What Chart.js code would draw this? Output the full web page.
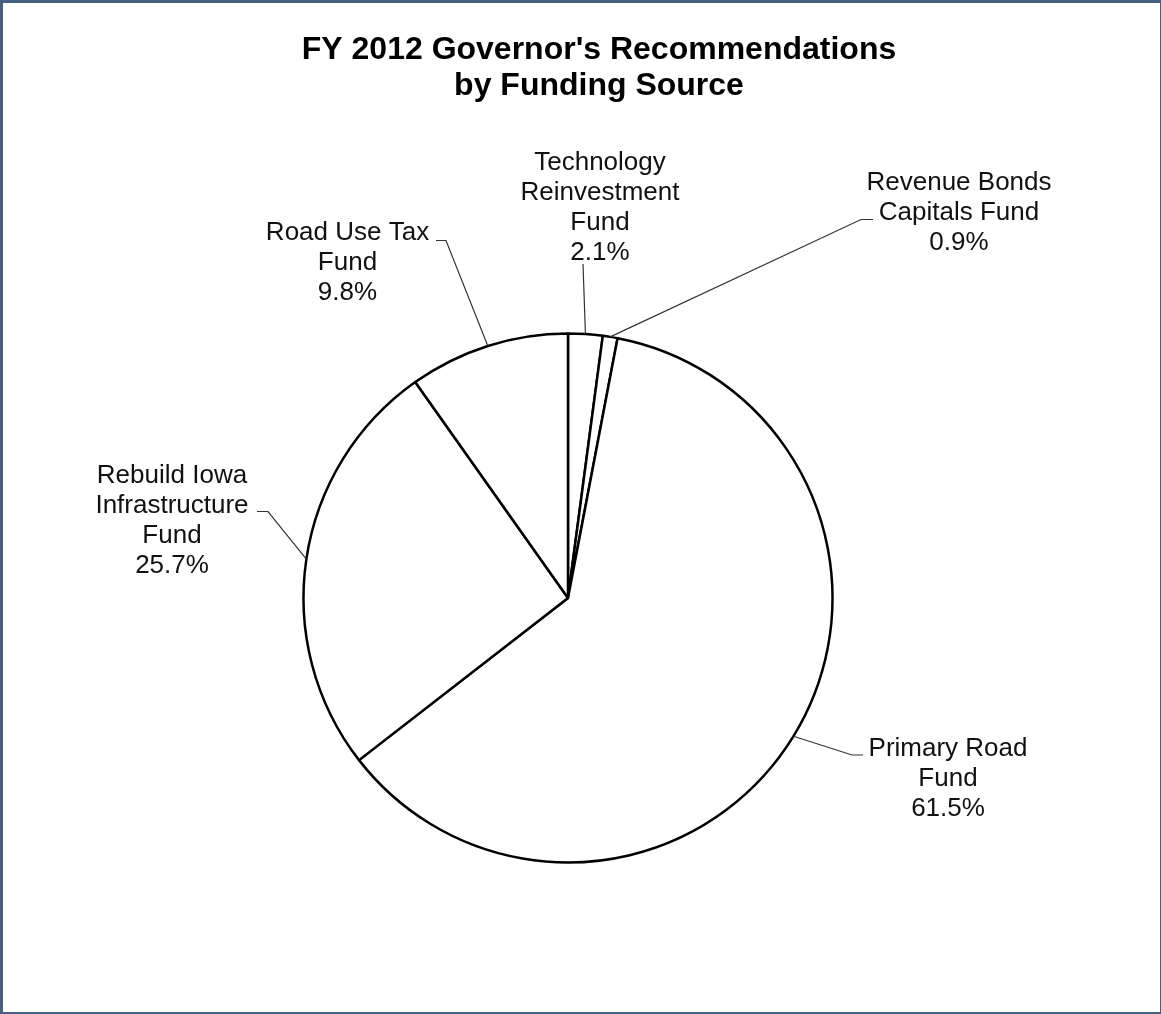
<!DOCTYPE html>
<html>
<head>
<meta charset="utf-8">
<script src="https://cdn.jsdelivr.net/npm/chart.js@4"></script>
<style>
    html, body { margin: 0; padding: 0; background: #fff; }
    #wrap { position: relative; width: 1161px; height: 1014px; }
    #pieChart { position: absolute; left: 0; top: 0; }
    #frame {
        position: absolute; left: 0; top: 0; width: 1161px; height: 1014px;
        box-sizing: border-box; border: 2px solid #46607f; border-top-width: 3px; border-left-width: 3px; border-right-width: 1px;
        pointer-events: none;
    }
</style>
</head>
<body>
<div id="wrap">
    <canvas id="pieChart" width="1161" height="1014"></canvas>
    <div id="frame"></div>
</div>
<script>
// data: order follows the pie clockwise from 12 o'clock
const titleLines = ['FY 2012 Governor\'s Recommendations', 'by Funding Source'];
const categories = [
    'Technology Reinvestment Fund',
    'Revenue Bonds Capitals Fund',
    'Primary Road Fund',
    'Rebuild Iowa Infrastructure Fund',
    'Road Use Tax Fund'
];
const categoryLines = [
    ['Technology', 'Reinvestment', 'Fund'],
    ['Revenue Bonds', 'Capitals Fund'],
    ['Primary Road', 'Fund'],
    ['Rebuild Iowa', 'Infrastructure', 'Fund'],
    ['Road Use Tax', 'Fund']
];
const shares = [2.1, 0.9, 61.5, 25.7, 9.8];

// label placement (text centre x, first baseline y, leader elbow, end of short horizontal)
const labelLayout = [
    { x: 600, y: 169.5, elbow: [583, 264], tail: null },
    { x: 959, y: 189.5, elbow: [861, 219.5], tail: [873, 219.5] },
    { x: 948, y: 755.5, elbow: [852, 755], tail: [863, 755] },
    { x: 172, y: 482.5, elbow: [268, 511.5], tail: [257, 511.5] },
    { x: 347.5, y: 239.5, elbow: [446, 240.5], tail: [436, 240.5] }
];

const FONT = '"Liberation Sans", Arial, sans-serif';

const labelPlugin = {
    id: 'pieLabels',
    afterDatasetsDraw(chart) {
        const ctx = chart.ctx;
        const arcs = chart.getDatasetMeta(0).data;
        const total = shares.reduce((a, b) => a + b, 0);

        ctx.save();
        // title
        ctx.fillStyle = '#000';
        ctx.textAlign = 'center';
        ctx.textBaseline = 'alphabetic';
        ctx.font = 'bold 32px ' + FONT;
        titleLines.forEach((t, i) => ctx.fillText(t, 599, 59 + i * 36));

        arcs.forEach((arc, i) => {
            const p = arc.getProps(['x', 'y', 'startAngle', 'endAngle', 'outerRadius'], true);
            const mid = (p.startAngle + p.endAngle) / 2;
            const ax = p.x + Math.cos(mid) * p.outerRadius;
            const ay = p.y + Math.sin(mid) * p.outerRadius;
            const lay = labelLayout[i];

            // leader line
            ctx.strokeStyle = '#333';
            ctx.lineWidth = 1.2;
            ctx.beginPath();
            ctx.moveTo(ax, ay);
            ctx.lineTo(lay.elbow[0], lay.elbow[1]);
            if (lay.tail) ctx.lineTo(lay.tail[0], lay.tail[1]);
            ctx.stroke();

            // text
            const lines = categoryLines[i].concat([(shares[i] / total * 100).toFixed(1) + '%']);
            ctx.fillStyle = '#111';
            ctx.font = '26px ' + FONT;
            lines.forEach((t, j) => ctx.fillText(t, lay.x, lay.y + j * 30));
        });
        ctx.restore();
    }
};

new Chart(document.getElementById('pieChart').getContext('2d'), {
    type: 'pie',
    data: {
        labels: categories,
        datasets: [{
            data: shares,
            backgroundColor: '#ffffff',
            borderColor: '#000000',
            borderWidth: 2.5,
            hoverOffset: 0,
            offset: 0
        }]
    },
    options: {
        responsive: false,
        animation: false,
        radius: 264.5,
        rotation: 0,
        layout: {
            padding: { left: 200, right: 225, top: 200, bottom: 18 }
        },
        plugins: {
            legend: { display: false },
            tooltip: { enabled: false },
            title: { display: false }
        },
        events: []
    },
    plugins: [labelPlugin]
});
</script>
</body>
</html>
